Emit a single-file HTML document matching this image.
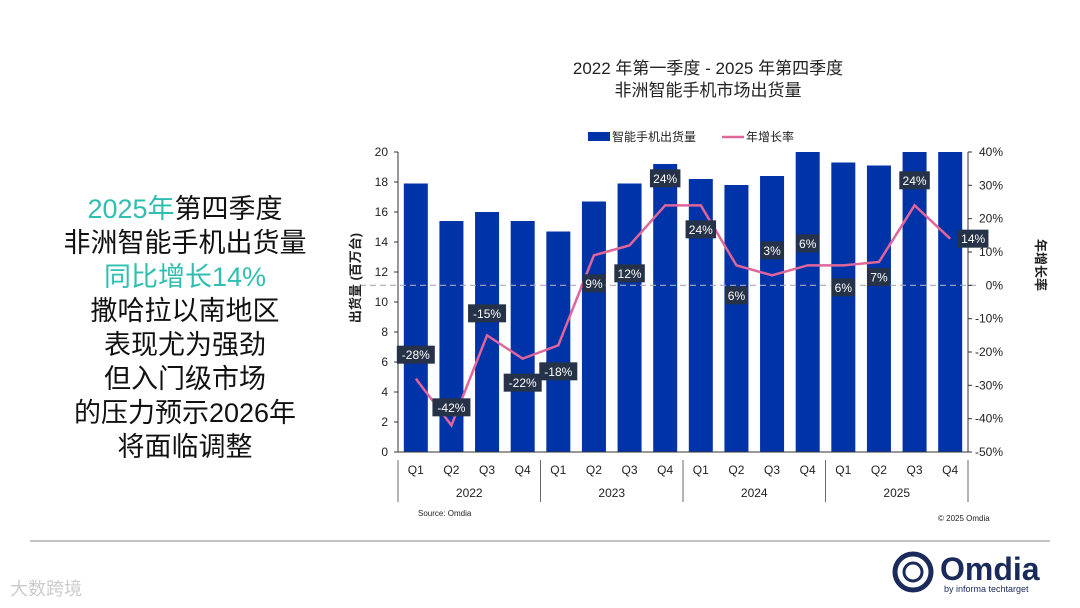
<!DOCTYPE html>
<html><head><meta charset="utf-8"><style>
body{margin:0;width:1080px;height:608px;background:#fff;overflow:hidden;font-family:"Liberation Sans","Noto Sans CJK SC",sans-serif;position:relative}
.side{position:absolute;left:40px;top:192px;width:290px;text-align:center;font-size:27px;line-height:34px;color:#111}
.t{color:#2fbfb0}
</style></head><body>
<div class="side"><span class="t">2025年</span>第四季度<br>非洲智能手机出货量<br><span class="t">同比增长14%</span><br>撒哈拉以南地区<br>表现尤为强劲<br>但入门级市场<br>的压力预示2026年<br>将面临调整</div>
<svg id="c" width="1080" height="608" style="position:absolute;left:0;top:0"></svg>
<script>
const categories=["Q1","Q2","Q3","Q4","Q1","Q2","Q3","Q4","Q1","Q2","Q3","Q4","Q1","Q2","Q3","Q4"];
const years=["2022","2023","2024","2025"];
const shipments=[17.9,15.4,16.0,15.4,14.7,16.7,17.9,19.2,18.2,17.8,18.4,20.5,19.3,19.1,20.8,21.0];
const growth=[-28,-42,-15,-22,-18,9,12,24,24,6,3,6,6,7,24,14];
const leftTicks=[0,2,4,6,8,10,12,14,16,18,20];
const rightTicks=[-50,-40,-30,-20,-10,0,10,20,30,40];
const labelDy=[-24,-18,-22,24,26,28,28,-27,24,30,-25,-22,22,15,-25,0];
const labelDx=[0,0,0,0,0,0,0,0,0,0,0,0,0,0,0,23];
const NS="http://www.w3.org/2000/svg",svg=document.getElementById('c');
const X0=398,X1=968,Y0=452,Y1=152;
const bw=(X1-X0)/categories.length;
const xc=i=>X0+bw*(i+0.5);
const yL=v=>Y0-(Math.min(v,20)/20)*(Y0-Y1);
const yR=v=>Y0-((v+50)/90)*(Y0-Y1);
function el(t,a,txt){const e=document.createElementNS(NS,t);for(const k in a)e.setAttribute(k,a[k]);if(txt!=null)e.textContent=txt;svg.appendChild(e);return e;}
function tx(x,y,s,o){return el('text',Object.assign({x:x,y:y,'font-size':12,fill:'#222','font-family':'"Liberation Sans","Noto Sans CJK SC",sans-serif'},o||{}),s);}
let e;
e=tx(708,74,"2022 年第一季度 - 2025 年第四季度",{'font-size':17,'text-anchor':'middle'});

e=tx(708,96,"非洲智能手机市场出货量",{'font-size':17,'text-anchor':'middle'});

e=el('rect',{x:588,y:132,width:22,height:9,fill:'#0033a8'});

e=tx(612,141,"智能手机出货量",{'font-size':12});

e=el('line',{x1:722,y1:137,x2:744,y2:137,stroke:'#e0659a','stroke-width':2.5});

e=tx(746,141,"年增长率",{'font-size':12});

categories.forEach((c,i)=>{
 const y=yL(shipments[i]);
 const b=el('rect',{x:xc(i)-12,y:y,width:24,height:Y0-y,fill:'#0033a8'});
 
 const t=tx(xc(i),474,c,{'text-anchor':'middle'});
 
});
years.forEach((y,j)=>{
 const t=tx(X0+bw*(j*4+2),497,y,{'text-anchor':'middle'});
 
 const l=el('line',{x1:X0+bw*j*4,y1:460,x2:X0+bw*j*4,y2:502,stroke:'#444','stroke-width':0.8});
 
});
e=el('line',{x1:X1,y1:460,x2:X1,y2:502,stroke:'#444','stroke-width':0.8});

e=el('line',{x1:360,y1:yR(0),x2:976,y2:yR(0),stroke:'#aab','stroke-width':1.2,'stroke-dasharray':'6,4'});

e=el('line',{x1:X0,y1:Y1,x2:X0,y2:Y0,stroke:'#333'});

e=el('line',{x1:X1,y1:Y1,x2:X1,y2:Y0,stroke:'#333'});

e=el('line',{x1:X0,y1:Y0,x2:X1,y2:Y0,stroke:'#333'});

leftTicks.forEach(v=>{
 const t=tx(388,yL(v)+4,String(v),{'text-anchor':'end'});
 
 const l=el('line',{x1:X0-4,y1:yL(v),x2:X0,y2:yL(v),stroke:'#333'});
 
});
rightTicks.forEach(v=>{
 const t=tx(1003,yR(v)+4,v+'%',{'text-anchor':'end'});
 
 const l=el('line',{x1:X1,y1:yR(v),x2:X1+4,y2:yR(v),stroke:'#333'});
 
});
e=tx(0,0,"出货量 (百万台)",{'font-size':13,'font-weight':'bold','text-anchor':'middle',transform:'translate(360,278) rotate(-90)'});

e=tx(0,0,"年增长率",{'font-size':13,'font-weight':'bold','text-anchor':'middle',transform:'translate(1036,265) rotate(90)'});

e=el('polyline',{points:growth.map((g,i)=>xc(i)+','+yR(g)).join(' '),fill:'none',stroke:'#e0659a','stroke-width':2.5});

growth.forEach((g,i)=>{
 const cx=xc(i)+labelDx[i],cy=yR(g)+labelDy[i];
 const s=g+'%',w=s.length*7.5+8;
 const r=el('rect',{x:cx-w/2,y:cy-9,width:w,height:18,fill:'#263248'});
 
 const t=tx(cx,cy+4.5,s,{'text-anchor':'middle',fill:'#fff','font-size':12});
 
});
e=tx(418,516,"Source: Omdia",{'font-size':8});

e=tx(938,521,"© 2025 Omdia",{'font-size':8});

e=el('line',{x1:30,y1:541,x2:1050,y2:541,stroke:'#888','stroke-width':1});

e=el('circle',{cx:913,cy:572,r:18,fill:'none',stroke:'#1a2a5a','stroke-width':5});

e=el('circle',{cx:913,cy:572,r:9,fill:'none',stroke:'#1a2a5a','stroke-width':3});

e=tx(940,580,"Omdia",{'font-size':32,'font-weight':'bold',fill:'#1a2a5a'});

e=tx(944,592,"by informa techtarget",{'font-size':9,fill:'#1a2a5a'});

e=tx(10,595,"大数跨境",{'font-size':18,fill:'#ccc'});

</script>
</body></html>
